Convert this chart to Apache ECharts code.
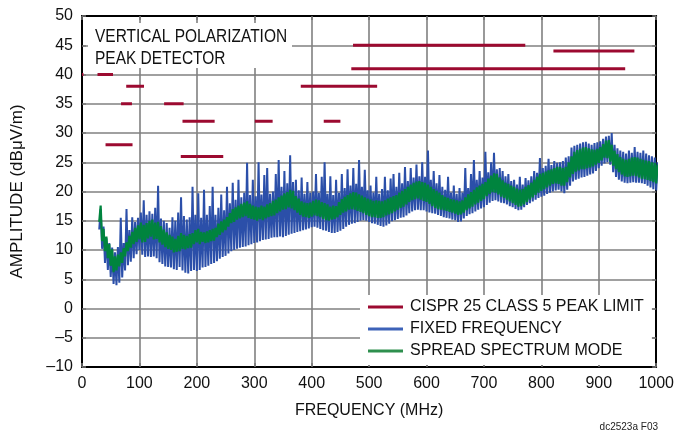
<!DOCTYPE html>
<html><head><meta charset="utf-8">
<script src="https://cdn.jsdelivr.net/npm/echarts@6/dist/echarts.min.js"></script>
<style>html,body{margin:0;padding:0;background:#fff}#c{width:677px;height:436px}</style>
</head><body><div id="c"></div>
<script>
// Frequency grid of the traces: first sample and step (MHz)
const freqStart = 30, freqStep = 5;
// Spread spectrum (green) trace: lower / upper envelope per step
const greenLo = [
14.8,11.5,9.8,8.6,7.3,6.2,6.5,7.2,7.8,8.9,
9.8,10.4,11.0,11.4,11.8,11.3,11.4,12.0,12.3,11.8,
11.9,11.3,10.9,10.5,10.2,10.0,9.6,9.7,9.8,10.2,
10.1,10.3,10.4,11.0,11.3,11.0,11.4,11.2,11.3,11.5,
11.6,12.2,12.6,13.0,13.4,14.0,14.6,14.8,15.2,15.4,
15.6,15.8,15.5,15.3,15.2,15.0,15.3,15.1,15.4,15.6,
15.8,15.9,16.3,16.6,16.9,17.0,17.3,17.1,16.8,16.4,
16.0,15.7,15.6,15.5,15.7,15.9,15.8,15.6,15.3,15.1,
15.0,15.2,15.3,15.6,16.0,16.4,16.6,16.9,17.0,16.9,
16.7,16.5,16.3,16.0,15.8,15.6,15.6,15.5,15.5,15.6,
15.9,16.1,16.3,16.6,16.9,17.2,17.4,17.8,18.2,18.5,
18.7,18.8,18.6,18.4,18.2,17.9,17.5,17.2,17.0,16.9,
16.8,16.7,16.5,16.4,16.2,16.0,16.1,16.4,16.8,17.1,
17.4,17.8,18.1,18.4,18.7,19.2,19.6,19.9,19.8,19.5,
19.1,18.9,18.6,18.3,18.0,17.7,17.4,17.5,17.8,18.2,
18.6,19.0,19.4,19.8,20.1,20.4,20.7,21.0,21.3,21.4,
21.3,21.0,21.0,21.6,22.4,23.0,23.4,23.6,23.8,23.8,
24.0,24.1,24.3,24.6,24.9,25.3,25.8,25.7,25.1,24.4,
23.8,23.3,22.9,22.6,22.5,22.6,22.7,22.6,22.4,22.2,
22.1,22.0,21.8,21.6,21.4];
const greenHi = [
17.6,13.6,12.3,11.0,10.1,8.9,9.2,9.6,10.3,11.3,
12.4,13.1,13.8,14.2,14.7,14.3,14.6,15.0,15.2,14.7,
14.8,14.1,13.5,13.0,12.6,12.3,11.9,12.4,12.9,12.6,
12.4,12.7,12.9,13.4,13.6,13.1,13.0,13.2,13.4,13.6,
13.8,14.5,14.9,15.2,15.6,16.3,17.0,17.3,17.6,17.9,
18.1,18.3,17.9,17.6,17.4,17.3,17.6,17.4,17.8,18.0,
18.4,18.6,19.0,19.3,19.7,19.9,20.3,20.1,19.2,18.8,
18.3,18.1,18.0,18.1,18.4,18.6,18.5,18.2,18.0,17.8,
17.4,17.6,17.5,18.2,18.7,19.1,19.4,19.7,19.9,19.8,
19.5,19.3,19.0,18.8,18.6,18.4,18.5,18.4,18.3,18.5,
18.8,19.0,19.2,19.4,19.8,20.1,20.4,20.8,21.2,21.5,
21.7,21.8,21.6,21.5,21.2,20.8,20.4,20.1,19.8,19.4,
19.1,18.9,18.7,18.6,18.5,18.3,18.5,19.0,19.5,19.9,
20.3,20.7,21.0,21.3,21.6,22.2,22.7,23.1,23.0,22.4,
21.9,21.5,21.3,21.0,20.8,20.5,20.3,20.4,20.8,21.1,
21.5,22.0,22.5,23.0,23.2,23.4,23.6,23.8,24.0,24.2,
24.2,24.0,24.2,25.0,26.0,26.8,27.1,27.3,27.5,27.6,
27.4,27.2,27.1,27.3,27.6,28.1,28.7,28.8,28.0,27.0,
26.4,25.9,25.6,25.4,25.6,25.8,25.9,25.8,25.6,25.4,
25.3,25.2,25.0,24.9,24.6];
// Fixed frequency (blue) trace: lower / upper envelope per step (upper includes spikes)
const blueLo = [
13.5,10.2,7.8,6.6,5.4,4.2,4.0,4.4,5.3,6.5,
7.4,8.0,8.6,9.3,10.0,9.2,8.8,8.9,8.8,8.9,
8.6,7.9,7.6,7.2,7.1,7.0,6.7,6.6,7.1,6.5,
6.1,6.0,6.4,6.6,6.4,6.6,7.0,7.1,7.3,7.6,
7.8,8.1,8.5,8.8,9.0,9.4,9.8,10.0,10.2,10.4,
10.5,10.6,10.8,11.0,11.2,11.3,11.5,11.7,11.8,11.9,
12.1,12.2,12.2,12.3,12.2,12.4,12.6,12.8,12.9,13.1,
13.2,13.4,13.5,13.7,13.9,14.0,13.8,13.6,13.4,13.3,
13.1,12.9,12.9,13.1,13.3,13.6,14.0,14.3,14.5,14.6,
14.8,15.0,15.1,15.0,14.8,14.6,14.5,14.3,14.1,14.0,
14.2,14.5,14.9,15.1,15.3,15.5,15.6,15.9,16.3,16.6,
16.8,16.9,16.8,16.8,16.6,16.4,16.3,16.2,16.0,15.8,
15.6,15.5,15.4,15.2,15.1,14.8,14.9,15.4,15.8,16.1,
16.3,16.6,16.9,17.1,17.3,17.7,18.1,18.4,18.5,18.3,
18.1,18.0,17.8,17.5,17.3,17.0,16.8,16.9,17.3,17.7,
18.0,18.3,18.6,18.9,19.1,19.3,19.6,19.8,20.0,20.2,
20.3,20.0,19.7,20.3,21.0,21.7,22.0,22.2,22.4,22.5,
22.7,22.9,23.1,23.5,24.0,24.4,24.8,25.0,24.6,23.3,
22.5,22.0,21.7,21.5,21.4,21.5,21.6,21.5,21.5,21.4,
21.3,21.0,20.7,20.4,20.2];
const blueHi = [
17.0,14.0,12.0,11.2,10.4,9.6,10.5,15.5,11.2,17.0,
13.4,15.6,14.8,15.5,16.4,18.5,16.0,16.6,16.2,17.2,
21.0,15.4,15.0,14.6,13.8,15.6,15.0,16.4,19.0,15.8,
15.2,15.6,20.8,16.0,19.7,15.5,20.3,16.0,17.5,20.8,
16.0,17.2,19.5,16.8,20.8,18.0,21.5,18.6,22.0,19.0,
19.8,24.9,19.4,22.0,19.2,25.0,19.5,22.8,24.0,19.6,
20.0,23.0,25.4,20.8,23.5,21.4,26.2,21.6,22.0,20.2,
22.4,19.6,21.6,19.8,20.0,23.0,19.8,22.5,25.0,19.6,
22.6,19.4,22.0,19.8,23.0,20.6,23.8,21.0,24.0,21.3,
25.4,20.8,23.7,20.2,21.0,19.8,22.5,19.6,20.4,22.5,
20.2,22.2,23.0,20.8,23.2,21.4,24.2,21.8,24.0,22.4,
24.6,22.6,25.0,22.5,27.0,22.0,23.5,21.4,22.8,20.8,
20.3,22.5,19.8,21.0,19.6,20.6,19.8,24.0,20.6,23.0,
25.4,22.0,23.5,22.4,26.8,23.3,25.0,26.6,23.8,24.0,
23.5,22.6,23.0,21.8,22.0,21.2,22.5,21.2,22.3,21.9,
22.6,23.5,23.2,25.7,24.0,24.4,25.6,24.5,25.2,24.9,
25.0,25.2,25.8,26.0,27.5,27.8,28.0,28.2,28.4,28.5,
28.2,28.0,28.3,28.4,28.6,29.0,29.4,29.5,30.0,28.0,
27.4,27.0,26.8,26.5,27.0,26.6,27.6,26.8,26.6,27.0,
26.5,26.2,26.0,25.8,25.0];
// CISPR 25 Class 5 peak limit segments (MHz, dBuV/m)
const limitStart = [0, 27, 77, 68, 143, 175, 301, 421, 41, 172, 381, 472, 469, 821];
const limitEnd   = [2.5, 54, 108, 87, 177, 231, 332, 450, 88, 246, 514, 772, 946, 962];
const limitLevel = [40, 40, 38, 35, 35, 32, 32, 32, 28, 26, 38, 45, 41, 44];
// Axis ticks
const xTicks = {min: 0, max: 1000, step: 100};
const yTicks = {min: -10, max: 50, step: 5};
const titleLines = ['VERTICAL POLARIZATION', 'PEAK DETECTOR'];
const seriesNames = ['CISPR 25 CLASS 5 PEAK LIMIT', 'FIXED FREQUENCY', 'SPREAD SPECTRUM MODE'];

const FONT = "'Liberation Sans',Arial,sans-serif";
const RED = '#9c0a30', BLUE = '#2b4fa9', GREEN = '#00843e';

function zigzag(lo, hi) {
  const out = [];
  for (let i = 0; i < lo.length; i++) {
    const f = freqStart + i * freqStep;
    out.push([f, lo[i]]);
    out.push([f + freqStep / 2, hi[i]]);
  }
  return out;
}

const chart = echarts.init(document.getElementById('c'), null, {renderer: 'canvas'});
const series = [
  {name: seriesNames[1], type: 'line', data: zigzag(blueLo, blueHi), symbol: 'none',
   lineStyle: {color: BLUE, width: 2.0, join: 'bevel'}, itemStyle: {color: '#3d62b8'}, z: 2, silent: true},
  {name: seriesNames[2], type: 'line', data: zigzag(greenLo, greenHi), symbol: 'none',
   lineStyle: {color: GREEN, width: 2.2, join: 'bevel'}, itemStyle: {color: '#2e8f4e'}, z: 3, silent: true}
];
for (let i = 0; i < limitStart.length; i++) {
  series.push({name: seriesNames[0], type: 'line', symbol: 'none',
    data: [[limitStart[i], limitLevel[i]], [limitEnd[i], limitLevel[i]]],
    lineStyle: {color: RED, width: 3, cap: 'butt'}, itemStyle: {color: RED}, z: 4, silent: true});
}

const axisCommon = {
  axisLine: {show: true, onZero: false, lineStyle: {color: '#000', width: 2}},
  axisTick: {show: true, inside: true, length: 4, lineStyle: {color: '#777', width: 1.5}},
  splitLine: {show: false}
};

chart.setOption({
  animation: false,
  backgroundColor: '#fff',
  grid: {left: 82, right: 20, top: 16, bottom: 69, containLabel: false},
  xAxis: [
    Object.assign({type: 'value', position: 'bottom', min: xTicks.min, max: xTicks.max, interval: xTicks.step,
      name: 'FREQUENCY (MHz)', nameLocation: 'middle', nameGap: 36,
      nameTextStyle: {fontFamily: FONT, fontSize: 16, color: '#111'},
      axisLabel: {fontFamily: FONT, fontSize: 16, color: '#111', margin: 9, formatter: v => String(v)}}, axisCommon,
      {splitLine: {show: true, lineStyle: {color: '#808080', width: 1.6}}}),
    Object.assign({type: 'value', position: 'top', min: xTicks.min, max: xTicks.max, interval: xTicks.step,
      axisLabel: {show: false}}, axisCommon)
  ],
  yAxis: [
    Object.assign({type: 'value', position: 'left', min: yTicks.min, max: yTicks.max, interval: yTicks.step,
      name: 'AMPLITUDE (dBμV/m)', nameLocation: 'middle', nameGap: 56, nameRotate: 90,
      nameTextStyle: {fontFamily: FONT, fontSize: 17, color: '#111'},
      axisLabel: {fontFamily: FONT, fontSize: 16, color: '#111', margin: 9,
        formatter: v => String(v).replace('-', '\u2013')}}, axisCommon,
      {splitLine: {show: true, lineStyle: {color: '#808080', width: 1.6}}}),
    Object.assign({type: 'value', position: 'right', min: yTicks.min, max: yTicks.max, interval: yTicks.step,
      axisLabel: {show: false}}, axisCommon)
  ],
  legend: {
    data: seriesNames, orient: 'vertical', left: 360, top: 295,
    backgroundColor: '#fff', padding: [4, 8, 6, 8], itemGap: 6,
    itemWidth: 35, itemHeight: 3, icon: 'rect',
    textStyle: {fontFamily: FONT, fontSize: 16, color: '#111', padding: [0, 0, 0, 2]},
    selectedMode: false
  },
  graphic: [
    {type: 'rect', left: 88, top: 23, shape: {width: 204, height: 45}, style: {fill: '#fff'}, z: 50},
    {type: 'text', x: 95, y: 26, scaleX: 0.86, z: 51,
      style: {x: 0, y: 0, text: titleLines.join('\n'), font: '18px ' + FONT, fill: '#111', lineHeight: 22}},
    {type: 'text', right: 19, bottom: 4, z: 51,
      style: {text: 'dc2523a F03', font: '10px ' + FONT, fill: '#222'}}
  ],
  series: series
});
</script></body></html>
